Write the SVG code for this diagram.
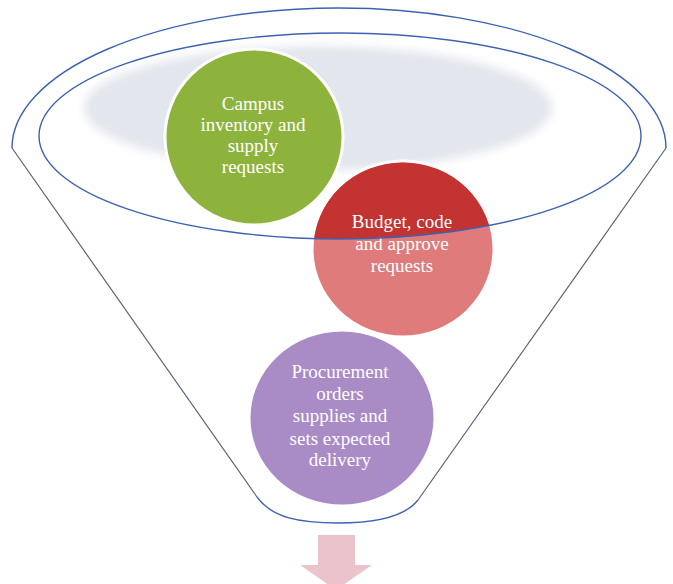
<svg xmlns="http://www.w3.org/2000/svg" width="673" height="584" viewBox="0 0 673 584">
<style>
.lbl{font-family:"Liberation Serif","Times New Roman",serif;font-size:19px;fill:#ffffff;text-anchor:middle}
.blue{fill:none;stroke:#3d62b3;stroke-width:1.4}
.side{fill:none;stroke:#5a6272;stroke-width:1.2}
.node{stroke:#ffffff;stroke-width:3}
</style>
<defs>
<filter id="blur" x="-20%" y="-40%" width="140%" height="180%"><feGaussianBlur stdDeviation="5"/></filter>
<clipPath id="inner"><ellipse cx="340" cy="136" rx="301" ry="103"/></clipPath>
</defs>
<rect width="673" height="584" fill="#ffffff"/>
<g id="funnel-shadow">
<ellipse cx="318" cy="108" rx="234" ry="62" fill="#e2e6ed" filter="url(#blur)"/>
</g>
<g id="node-campus">
<ellipse class="node" cx="254" cy="137" rx="89" ry="88" fill="#8db33d"/>
<text class="lbl" x="253" y="110">Campus</text>
<text class="lbl" x="253" y="131">inventory and</text>
<text class="lbl" x="253" y="152">supply</text>
<text class="lbl" x="253" y="173">requests</text>
</g>
<g id="node-budget">
<ellipse class="node" cx="403" cy="249" rx="91" ry="88" fill="#e07b7b"/>
<ellipse cx="403" cy="249" rx="89.5" ry="86.5" fill="#c23331" clip-path="url(#inner)"/>
<text class="lbl" x="402" y="228">Budget, code</text>
<text class="lbl" x="402" y="250">and approve</text>
<text class="lbl" x="402" y="272">requests</text>
</g>
<g id="node-procurement">
<ellipse class="node" cx="342" cy="418" rx="93" ry="88" fill="#a98bc5"/>
<text class="lbl" x="340" y="378">Procurement</text>
<text class="lbl" x="340" y="400">orders</text>
<text class="lbl" x="340" y="422">supplies and</text>
<text class="lbl" x="340" y="445">sets expected</text>
<text class="lbl" x="340" y="466">delivery</text>
</g>
<g id="funnel">
<ellipse class="blue" cx="340" cy="136" rx="301" ry="103"/>
<path class="blue" d="M12,148 A327,140 0 0 1 666,148"/>
<path class="side" d="M12,148 L257,497"/>
<path class="side" d="M666,148 L418,500"/>
<path class="blue" d="M257,497 C272,518 300,523 338,523 C372,523 404,518 418,500"/>
</g>
<g id="connectors">
<path d="M318,535 L355,535 L355,565 L372,565 L336,590 L300,565 L318,565 Z" fill="#ebc3cb"/>
</g>
</svg>
